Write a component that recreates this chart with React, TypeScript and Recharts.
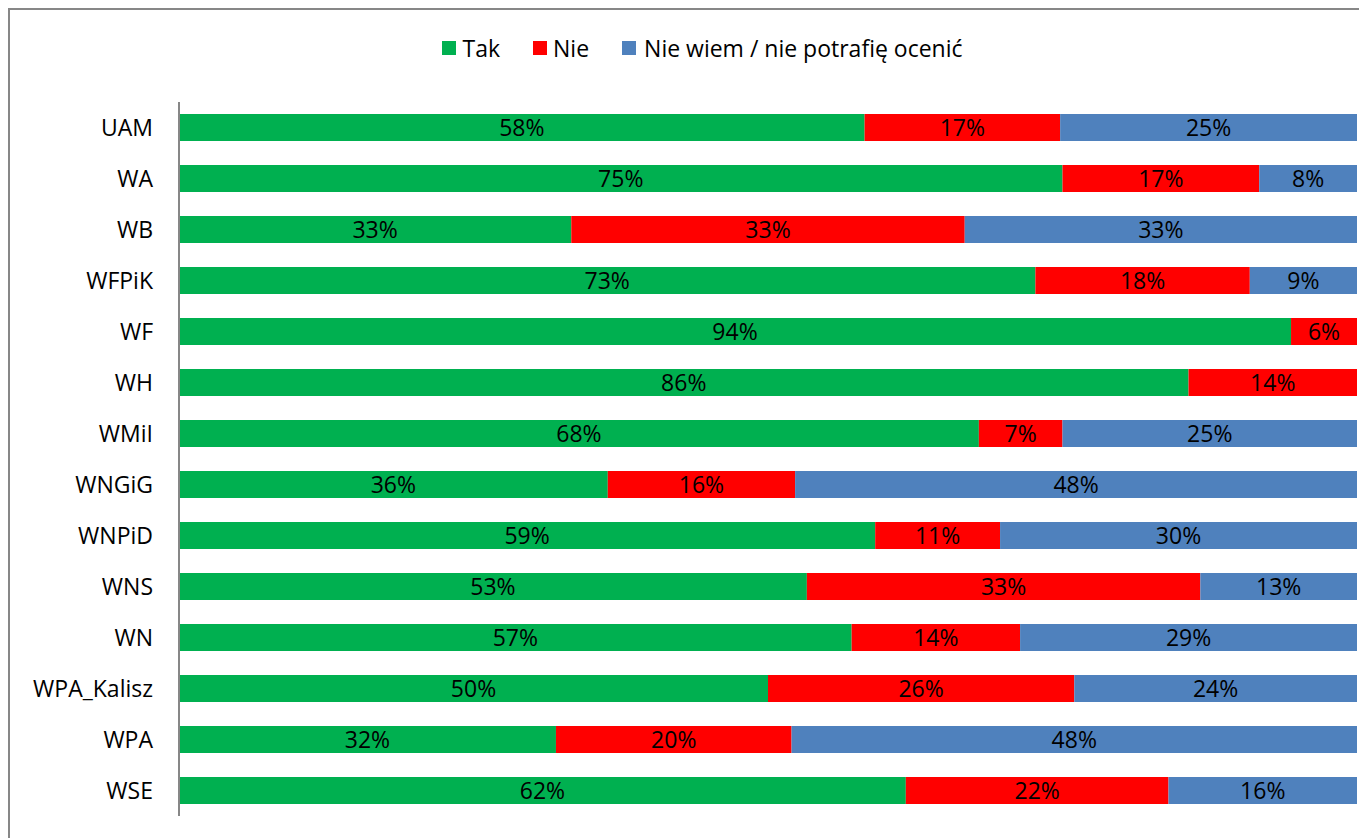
import React from 'react';
import { Bar, BarChart, LabelList, Legend, XAxis, YAxis } from 'recharts';

const categories = ['UAM', 'WA', 'WB', 'WFPiK', 'WF', 'WH', 'WMiI', 'WNGiG', 'WNPiD', 'WNS', 'WN', 'WPA_Kalisz', 'WPA', 'WSE'];
const tak = [58.2, 75.0, 33.3, 72.7, 94.4, 85.7, 67.9, 36.4, 59.1, 53.3, 57.1, 50.0, 32.0, 61.7];
const nie = [16.6, 16.7, 33.4, 18.2, 5.6, 14.3, 7.1, 15.9, 10.6, 33.4, 14.3, 26.0, 20.0, 22.3];
const nieWiem = [25.2, 8.3, 33.3, 9.1, 0, 0, 25.0, 47.7, 30.3, 13.3, 28.6, 24.0, 48.0, 16.0];

const seriesNames = ['Tak', 'Nie', 'Nie wiem / nie potrafię ocenić'];
const seriesKeys = ['tak', 'nie', 'nieWiem'];
const colors = ['#00B050', '#FF0000', '#4F81BD'];

const data = categories.map((name, i) => ({
  name,
  tak: tak[i],
  nie: nie[i],
  nieWiem: nieWiem[i],
}));

const FONT = '"Open Sans", sans-serif';
const FONT_SIZE = 23;

const formatPct = (v: any) => (v ? `${Math.round(Number(v))}%` : '');

const LegendContent = () => (
  <div
    style={{
      display: 'flex',
      justifyContent: 'center',
      alignItems: 'center',
      fontFamily: FONT,
      fontSize: FONT_SIZE,
      color: '#000',
      lineHeight: '28px',
    }}
  >
    {seriesNames.map((n, i) => (
      <div key={n} style={{ display: 'flex', alignItems: 'center', marginRight: i < 2 ? 33 : 0 }}>
        <span style={{ display: 'inline-block', width: 14, height: 14, background: colors[i], marginRight: i === 2 ? 8 : 6 }} />
        <span>{n}</span>
      </div>
    ))}
  </div>
);

const App = () => {
  return (
    <div style={{ width: 1359, height: 830, overflow: 'hidden' }}>
      <div
        style={{
          width: 1400,
          height: 840,
          borderTop: '2px solid #878787',
          borderLeft: '2px solid #878787',
          background: '#fff',
        }}
      >
        <BarChart
          width={1380}
          height={828}
          data={data}
          layout="vertical"
          margin={{ top: 92, right: 33, left: 0, bottom: 22 }}
          barSize={27}
        >
          <XAxis type="number" domain={[0, 100]} hide />
          <YAxis
            type="category"
            dataKey="name"
            width={169}
            axisLine={{ stroke: '#878787', strokeWidth: 2 }}
            tickLine={false}
            tickSize={0}
            tickMargin={26}
            tick={{ fill: '#000', fontSize: FONT_SIZE, fontFamily: FONT }}
            interval={0}
          />
          <Legend
            layout="horizontal"
            verticalAlign="middle"
            align="center"
            content={<LegendContent />}
            wrapperStyle={{ top: 24, left: 0, width: 1385, height: 28 }}
          />
          {seriesKeys.map((key, i) => (
            <Bar
              key={key}
              dataKey={key}
              name={seriesNames[i]}
              stackId="a"
              fill={colors[i]}
              isAnimationActive={false}
            >
              <LabelList
                dataKey={key}
                position="center"
                formatter={formatPct}
                fill="#000"
                style={{ fontSize: FONT_SIZE, fontFamily: FONT }}
              />
            </Bar>
          ))}
        </BarChart>
      </div>
    </div>
  );
};

export default App;
